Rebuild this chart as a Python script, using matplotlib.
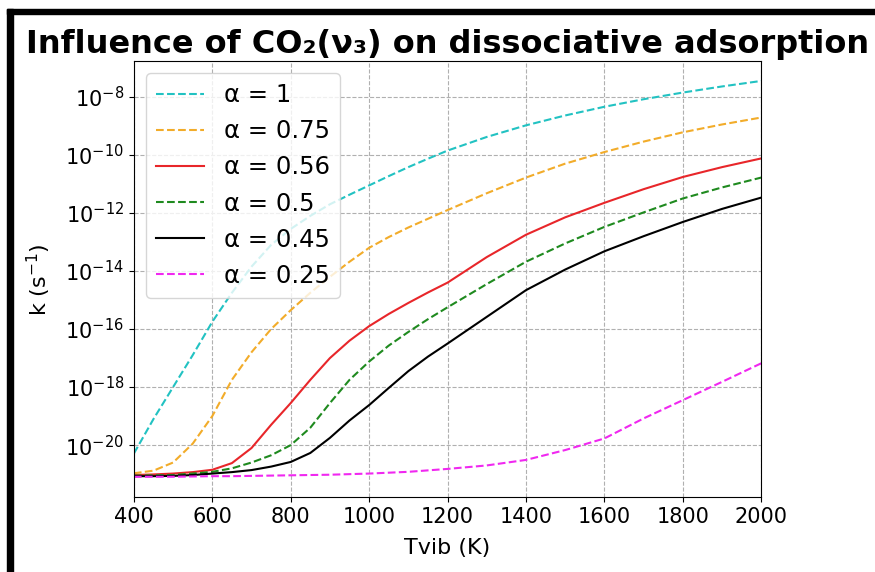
import numpy as np
import matplotlib.pyplot as plt
from matplotlib.patches import Rectangle

# ------------------------------------------------------------
# Datos (log10 de k en s^-1)
# ------------------------------------------------------------
tvib = [400, 450, 500, 550, 600, 650, 700, 750, 800, 850, 900, 950, 1000,
        1050, 1100, 1150, 1200, 1300, 1400, 1500, 1600, 1700, 1800, 1900, 2000]

log_k_100 = [-20.29, -19.10, -18.00, -16.90, -15.75, -14.75, -13.85, -13.10, -12.55,
             -12.10, -11.70, -11.37, -11.05, -10.73, -10.42, -10.13, -9.85, -9.38,
             -8.98, -8.64, -8.34, -8.08, -7.85, -7.64, -7.45]
log_k_075 = [-20.97, -20.88, -20.60, -19.95, -19.00, -17.75, -16.80, -16.00, -15.35,
             -14.75, -14.20, -13.68, -13.20, -12.83, -12.50, -12.20, -11.90, -11.32,
             -10.78, -10.30, -9.90, -9.54, -9.22, -8.95, -8.71]
log_k_056 = [-21.03, -21.01, -20.98, -20.93, -20.85, -20.62, -20.10, -19.30, -18.55,
             -17.75, -17.00, -16.40, -15.90, -15.48, -15.10, -14.74, -14.40, -13.52,
             -12.75, -12.15, -11.65, -11.18, -10.76, -10.42, -10.12]
log_k_050 = [-21.05, -21.04, -21.03, -20.98, -20.92, -20.80, -20.60, -20.35, -20.00,
             -19.40, -18.55, -17.75, -17.12, -16.57, -16.10, -15.66, -15.25, -14.45,
             -13.68, -13.05, -12.48, -11.98, -11.50, -11.12, -10.78]
log_k_045 = [-21.07, -21.07, -21.06, -21.03, -20.98, -20.93, -20.86, -20.74, -20.58,
             -20.27, -19.75, -19.15, -18.62, -18.03, -17.45, -16.95, -16.50, -15.58,
             -14.66, -13.95, -13.32, -12.80, -12.31, -11.86, -11.47]
log_k_025 = [-21.09, -21.09, -21.09, -21.08, -21.07, -21.07, -21.06, -21.05, -21.04,
             -21.03, -21.02, -21.00, -20.98, -20.95, -20.92, -20.87, -20.82, -20.70,
             -20.51, -20.17, -19.77, -19.08, -18.45, -17.82, -17.18]

etiquetas = ['α = 1', 'α = 0.75', 'α = 0.56', 'α = 0.5', 'α = 0.45', 'α = 0.25']
colores = ['#22c2c2', '#f2ac2a', '#e8262a', '#1f8a1f', 'k', '#f028f0']
estilos = ['--', '--', '-', '--', '-', '--']

series = [log_k_100, log_k_075, log_k_056, log_k_050, log_k_045, log_k_025]

# ------------------------------------------------------------
# Figura
# ------------------------------------------------------------
fig = plt.figure(figsize=(8.75, 5.72), dpi=100)
ax = fig.add_axes([0.153, 0.131, 0.717, 0.762])

for serie, lab, col, ls in zip(series, etiquetas, colores, estilos):
    ax.semilogy(tvib, 10.0 ** np.array(serie), color=col, linestyle=ls,
                linewidth=1.5, label=lab)

ax.set_xlim(400, 2000)
ax.set_ylim(10 ** -21.79, 10 ** -6.77)
ax.set_yticks([10.0 ** e for e in range(-20, -7, 2)])
ax.minorticks_off()
ax.tick_params(labelsize=15)
ax.grid(True, linestyle='--', color='#b0b0b0', linewidth=0.8)

ax.set_xlabel('Tvib (K)', fontsize=16, labelpad=8)
ax.set_ylabel('k (s$^{-1}$)', fontsize=16, labelpad=9)
ax.set_title('Influence of CO₂(ν₃) on dissociative adsorption',
             fontsize=23, fontweight='bold', pad=6)

ax.legend(loc='upper left', fontsize=17.5)

# marco negro de la captura
fig.patches.append(Rectangle((7 / 875, 1 - 14 / 572), 1, 5 / 572,
                             transform=fig.transFigure, color='k'))
fig.patches.append(Rectangle((7 / 875, 0), 6 / 875, 1 - 9 / 572,
                             transform=fig.transFigure, color='k'))

plt.savefig('out.png', dpi=100)
